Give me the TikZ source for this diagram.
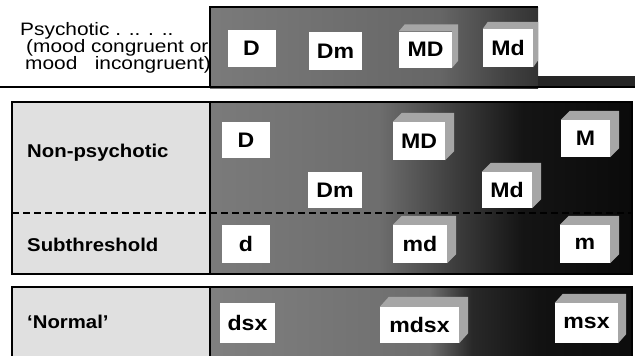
\documentclass[tikz,border=0pt]{standalone}
\usepackage{fontspec}
\setmainfont{Liberation Sans}[FakeStretch=1.1]
\newfontfamily\psyfont{Liberation Sans}[FakeStretch=1.16]
\usetikzlibrary{calc}

% horizontal grey-to-black bands (path box maps onto 25bp..75bp)
\pgfdeclarehorizontalshading{bandtop}{100bp}{color(0bp)=(black!52); color(25bp)=(black!52); color(60bp)=(black!60); color(70bp)=(black!74); color(75bp)=(black!80); color(100bp)=(black!80)}
\pgfdeclarehorizontalshading{bandmid}{100bp}{color(0bp)=(black!52); color(25bp)=(black!52); color(45bp)=(black!57); color(54bp)=(black!76); color(62bp)=(black!92); color(75bp)=(black!96); color(100bp)=(black!96)}
\pgfdeclarehorizontalshading{bandlow}{100bp}{color(0bp)=(black!50); color(25bp)=(black!50); color(51bp)=(black!57); color(56bp)=(black!84); color(64bp)=(black!93); color(75bp)=(black!95); color(100bp)=(black!95)}

% raised face on the top and right of a label box
\newcommand\raisedface[3]{%
  \fill[bevelface] (#1.north west) -- ++(#2,-#3)
    -- ($(#1.north east)+(#2,-#3)$) -- ($(#1.south east)+(#2,-#3)$)
    -- (#1.south east) -- (#1.north east) -- cycle;}

\begin{document}
\begin{tikzpicture}[x=1pt,y=-1pt,
  frame/.style={draw=black, line width=2pt},
  stipple/.style={fill=black!12},
  bevelface/.style={fill=black!35},
  lbl/.style={fill=white, inner sep=0pt, text=black,
    font=\fontsize{21}{24}\selectfont\bfseries},
  rowtext/.style={anchor=west, inner sep=0pt,
    font=\fontsize{18.5}{22}\selectfont\bfseries},
  psytext/.style={anchor=base west, inner sep=0pt,
    font=\psyfont\fontsize{18}{20}\selectfont},
  divline/.style={draw=black, line width=1.5pt, dash pattern=on 7pt off 4pt}]
\useasboundingbox (0,0) rectangle (635,356);

% ---- psychotic band ----
\shade[shading=bandtop] (210,7) rectangle (538,88);
\fill[black!85] (538,76) rectangle (635,88);
\draw[frame] (210,88) -- (210,7) -- (538,7);
\draw[draw=black, line width=2.5pt] (0,87) -- (635,87);

% ---- non-psychotic / subthreshold band ----
\fill[stipple] (12,102) rectangle (210,274);
\shade[shading=bandmid] (210,102) rectangle (632,274);
\draw[divline] (12,213) -- (632,213);
\draw[frame] (12,102) rectangle (632,274);
\draw[frame] (210,102) -- (210,274);

% ---- normal band ----
\fill[stipple] (12,287) rectangle (210,356);
\shade[shading=bandlow] (210,287) rectangle (632,356);
\draw[frame] (12,357) -- (12,287) -- (632,287) -- (632,357);
\draw[frame] (210,287) -- (210,357);

% ---- row labels ----
\node[psytext] (psyA) at (20,35) {Psychotic . .. . ..};
\node[psytext] (psyB) at (26,52) {(mood congruent or};
\node[psytext] (psyC) at (25,69) {mood\ \ \ incongruent)};
\node[rowtext] (nonp) at (27,153) {Non-psychotic};
\node[rowtext] (subt) at (27,245) {Subthreshold};
\node[rowtext] (norm) at (27,322) {‘Normal’};

% ---- label boxes ----
\node[lbl, minimum width=48, minimum height=37] (pD)  at (251.5,48.5) {D};
\node[lbl, minimum width=53, minimum height=38] (pDm) at (335.5,51) {Dm};
\node[lbl, minimum width=53, minimum height=36] (pMD) at (425.5,49.5) {MD};
\node[lbl, minimum width=50, minimum height=38] (pMd) at (508,48) {Md};

\node[lbl, minimum width=48, minimum height=36] (nD)  at (246,140) {D};
\node[lbl, minimum width=52, minimum height=38] (nMD) at (419,141) {MD};
\node[lbl, minimum width=49, minimum height=37] (nM)  at (585.5,138.5) {M};
\node[lbl, minimum width=54, minimum height=36] (nDm) at (335,190) {Dm};
\node[lbl, minimum width=50, minimum height=36] (nMd) at (507,190) {Md};

\node[lbl, minimum width=48, minimum height=38] (sd)  at (246,244) {d};
\node[lbl, minimum width=54, minimum height=38] (smd) at (420,244) {md};
\node[lbl, minimum width=50, minimum height=38] (sm)  at (585,244) {m};

\node[lbl, minimum width=55, minimum height=40] (xdsx)  at (247.5,323) {dsx};
\node[lbl, minimum width=79, minimum height=36] (xmdsx) at (419.5,325) {mdsx};
\node[lbl, minimum width=63, minimum height=40] (xmsx)  at (586.5,323) {msx};

% ---- raised faces ----
\raisedface{pMD}{6}{7}
\raisedface{pMd}{5}{7}
\raisedface{nMD}{9}{9}
\raisedface{nM}{9}{9}
\raisedface{nMd}{9}{9}
\raisedface{smd}{9}{9}
\raisedface{sm}{9}{9}
\raisedface{xmdsx}{9}{10}
\raisedface{xmsx}{8}{9}
\end{tikzpicture}
\end{document}
